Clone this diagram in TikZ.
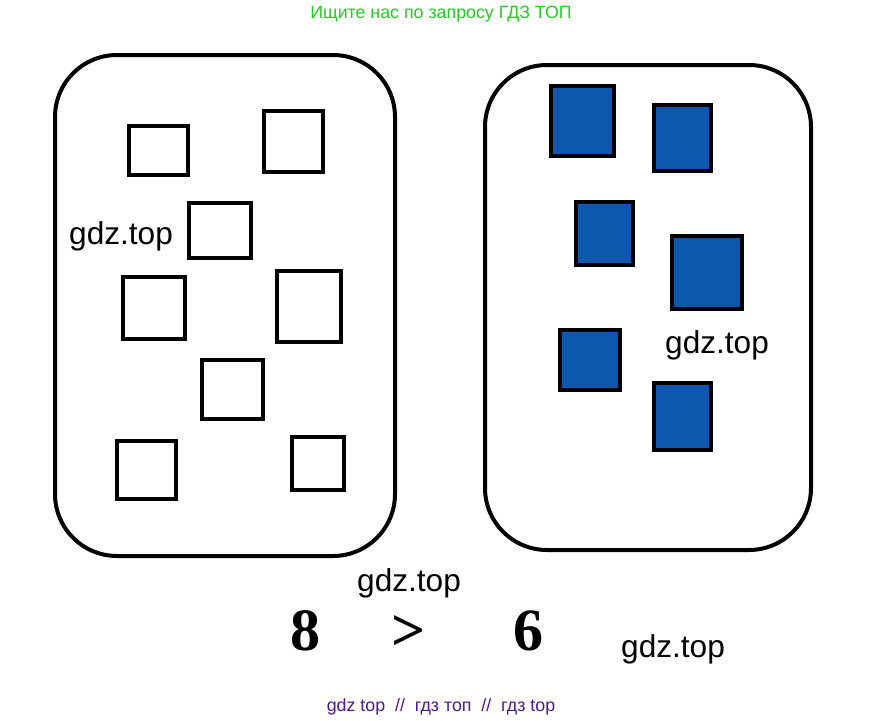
\documentclass[tikz,border=0pt]{standalone}
\usepackage{fontspec}
\setmainfont{Liberation Sans}
\newfontfamily\serifnum{Liberation Serif}
\definecolor{topgreen}{RGB}{36,204,36}
\definecolor{botpurple}{RGB}{80,25,140}
\definecolor{sqblue}{RGB}{14,87,174}
\begin{document}
\begin{tikzpicture}[x=1pt,y=-1pt,
  panel/.style={draw=black,line width=4pt,rounded corners=62pt},
  wsq/.style={draw=black,line width=4.2pt,fill=white},
  bsq/.style={draw=black,line width=4.6pt,fill=sqblue},
  wm/.style={font=\fontsize{31.6}{32}\selectfont,inner sep=0pt,anchor=base west},
  num/.style={font=\serifnum\bfseries\fontsize{60}{60}\selectfont,inner sep=0pt,anchor=base west}]
\useasboundingbox[fill=white] (0,0) rectangle (883,720);
% panels
\draw[panel] (55,55) rectangle (395,556);
\draw[panel] (485,65) rectangle (811,550);
% left empty squares
\draw[wsq] (129,126) rectangle (188,175);
\draw[wsq] (264,111) rectangle (323,172);
\draw[wsq] (189,203) rectangle (251,258);
\draw[wsq] (123,277) rectangle (185,339);
\draw[wsq] (277,271) rectangle (341,342);
\draw[wsq] (202,360) rectangle (263,419);
\draw[wsq] (117,441) rectangle (176,499);
\draw[wsq] (292,437) rectangle (344,490);
% right blue squares
\draw[bsq] (551,86) rectangle (614,156);
\draw[bsq] (654,105) rectangle (711,171);
\draw[bsq] (576,202) rectangle (633,265);
\draw[bsq] (672,236) rectangle (742,309);
\draw[bsq] (560,330) rectangle (620,390);
\draw[bsq] (654,383) rectangle (711,450);
% watermarks
\node[wm] (w1) at (69,244) {gdz.top};
\node[wm] (w2) at (665,353) {gdz.top};
\node[wm] (w3) at (357,591) {gdz.top};
\node[wm] (w4) at (621,657) {gdz.top};
% comparison
\node[num] (n8) at (290,650) {8};
\node[num] (gt) at (391,650) {>};
\node[num] (n6) at (513,650) {6};
% header / footer
\node[font=\fontsize{17.8}{18}\selectfont,text=topgreen,inner sep=0pt,anchor=base] (hdr) at (441,18) {Ищите нас по запросу ГДЗ ТОП};
\node[font=\fontsize{17.8}{18}\selectfont,text=botpurple,inner sep=0pt,anchor=base] (ftr) at (441,711) {gdz top \ // \ гдз топ \ // \ гдз top};
\end{tikzpicture}
\end{document}
